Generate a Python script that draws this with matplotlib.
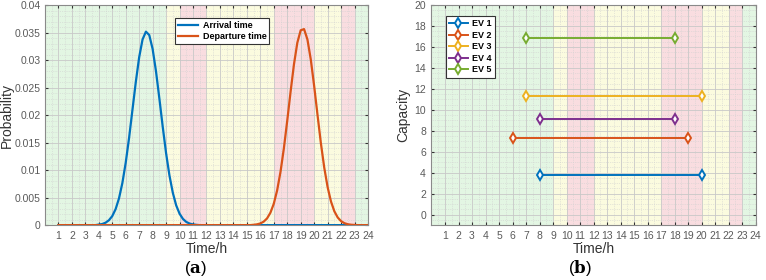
import matplotlib
matplotlib.use("Agg")
import matplotlib.pyplot as plt
from matplotlib.ticker import MultipleLocator

plt.rcParams['font.family'] = ['Liberation Sans', 'DejaVu Sans']
plt.rcParams['mathtext.fontset'] = 'dejavuserif'

# pdf curves
arr_t = [1, 3.75, 4.0, 4.25, 4.5, 4.75, 5.0, 5.25, 5.5, 5.75, 6.0, 6.25, 6.5, 6.75, 7.0,
         7.25, 7.5, 7.75, 8.0, 8.25, 8.5, 8.75, 9.0, 9.25, 9.5, 9.75, 10.0, 10.25, 10.5,
         10.75, 11.0, 11.25, 11.5, 24]
arr_p = [0, 0, 0.0001, 0.0002, 0.00044, 0.00088, 0.00164, 0.00291, 0.00486, 0.00764,
         0.01135, 0.01586, 0.02095, 0.02603, 0.03052, 0.03374, 0.03516, 0.03454, 0.0320,
         0.02794, 0.02301, 0.01786, 0.01306, 0.00901, 0.00587, 0.00359, 0.00208, 0.00113,
         0.00058, 0.00028, 0.00013, 0.00005, 0, 0]
dep_t = [1, 15.25, 15.5, 15.75, 16.0, 16.25, 16.5, 16.75, 17.0, 17.25, 17.5, 17.75, 18.0,
         18.25, 18.5, 18.75, 19.0, 19.25, 19.5, 19.75, 20.0, 20.25, 20.5, 20.75, 21.0,
         21.25, 21.5, 21.75, 22.0, 22.25, 22.5, 22.75, 23.0, 23.25, 24]
dep_p = [0, 0, 0.00006, 0.00014, 0.0003, 0.00063, 0.00122, 0.00225, 0.00388, 0.00631,
         0.00967, 0.01395, 0.01897, 0.02426, 0.02922, 0.03315, 0.03541, 0.03563, 0.03375,
         0.03011, 0.0253, 0.02003, 0.0149, 0.01045, 0.00691, 0.0043, 0.00252, 0.00139,
         0.00072, 0.00035, 0.00016, 0.00007, 0.00003, 0, 0]

# panel (b): EV name, arrival, departure, capacity
ev_names = ['EV 1', 'EV 2', 'EV 3', 'EV 4', 'EV 5']
ev_start = [8, 6, 7, 8, 7]
ev_end = [20, 19, 20, 18, 18]
ev_cap = [3.8, 7.3, 11.3, 9.1, 16.9]

# tariff periods (start, end, kind)
bands = [(0, 9, 'v'), (9, 10, 'f'), (10, 12, 'p'), (12, 17, 'f'),
         (17, 20, 'p'), (20, 22, 'f'), (22, 23, 'p'), (23, 24, 'v')]
band_col = {'v': '#e3f6e3', 'f': '#fbfbdf', 'p': '#f9dde0'}

mcol = ['#0072BD', '#D95319', '#EDB120', '#7E2F8E', '#77AC30']
tick_gray = '#5a5a5a'

fig = plt.figure(figsize=(7.66, 2.8), dpi=100)
ax1 = fig.add_axes([0.0587, 0.196, 0.4217, 0.786])
ax2 = fig.add_axes([0.5633, 0.196, 0.4233, 0.786])


def style(ax):
    for b0, b1, k in bands:
        ax.axvspan(b0, b1, color=band_col[k], lw=0, zorder=0)
    ax.set_xlim(0, 24)
    ax.set_xticks(range(1, 25))
    ax.xaxis.set_minor_locator(MultipleLocator(0.5))
    ax.grid(True, which='major', color='#c8c8c8', lw=0.6, zorder=1)
    ax.grid(True, which='minor', color='#d0d0d0', lw=0.5, ls=':', zorder=1)
    ax.set_axisbelow(True)
    ax.tick_params(which='both', direction='in', labelsize=7.5, colors='#333333',
                   labelcolor=tick_gray, length=2.5, pad=4)
    ax.tick_params(which='minor', length=0)
    ax.tick_params(top=True, right=True, which='major')
    for s in ax.spines.values():
        s.set_color('#8a8a8a')
        s.set_linewidth(0.8)
    ax.set_xlabel('Time/h', fontsize=10, color='#333333', labelpad=1)


style(ax1)
ax1.plot(arr_t, arr_p, color=mcol[0], lw=1.6, label='Arrival time', zorder=3)
ax1.plot(dep_t, dep_p, color=mcol[1], lw=1.6, label='Departure time', zorder=3)
ax1.set_ylim(0, 0.04)
ax1.yaxis.set_minor_locator(MultipleLocator(0.001))
ax1.set_yticks([0, 0.005, 0.01, 0.015, 0.02, 0.025, 0.03, 0.035, 0.04])
ax1.set_yticklabels(['0', '0.005', '0.01', '0.015', '0.02', '0.025', '0.03', '0.035', '0.04'])
ax1.tick_params(axis='y', pad=3)
ax1.set_ylabel('Probability', fontsize=10, color='#333333', labelpad=0.5)
leg1 = ax1.legend(loc='upper left', bbox_to_anchor=(0.39, 0.96),
                  prop={'weight': 'bold', 'size': 6.5}, fancybox=False, framealpha=1,
                  edgecolor='#333333', handlelength=2.2, handletextpad=0.5,
                  borderpad=0.3, labelspacing=0.2)
leg1.get_frame().set_linewidth(0.8)

style(ax2)
for i in range(len(ev_names)):
    ax2.plot([ev_start[i], ev_end[i]], [ev_cap[i], ev_cap[i]], color=mcol[i], lw=1.4,
             marker='d', ms=5, mfc='white', mec=mcol[i], mew=1.4, label=ev_names[i], zorder=3)
ax2.set_ylim(-1, 20)
ax2.set_yticks(range(0, 21, 2))
ax2.yaxis.set_minor_locator(MultipleLocator(0.5))
ax2.set_ylabel('Capacity', fontsize=10, color='#333333', labelpad=3)
leg2 = ax2.legend(loc='upper left', bbox_to_anchor=(0.03, 0.97),
                  prop={'weight': 'bold', 'size': 6.5}, fancybox=False, framealpha=1,
                  edgecolor='#333333', handlelength=2.1, handletextpad=0.5,
                  borderpad=0.35, labelspacing=0.28)
leg2.get_frame().set_linewidth(0.8)

fig.text(0.255, 0.025, r'($\mathbf{a}$)', fontsize=12, ha='center')
fig.text(0.757, 0.025, r'($\mathbf{b}$)', fontsize=12, ha='center')

fig.savefig('out.png', dpi=100)
